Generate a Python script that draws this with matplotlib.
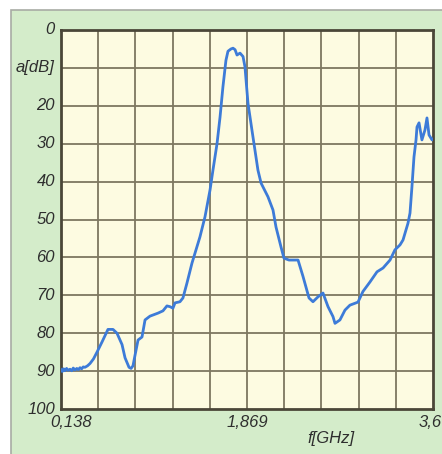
import matplotlib
matplotlib.use("Agg")
import matplotlib.pyplot as plt
from matplotlib.patches import Rectangle

# ---- data ----
freq_ghz = [0.138, 0.150, 0.163, 0.175, 0.190, 0.205, 0.222, 0.238, 0.252, 0.268,
            0.285, 0.300, 0.315, 0.330, 0.345, 0.361, 0.385, 0.408, 0.440, 0.473,
            0.520, 0.575, 0.622, 0.659, 0.706, 0.734, 0.771, 0.790, 0.808, 0.827,
            0.855, 0.892, 0.920, 0.966, 0.994, 1.041, 1.087, 1.124, 1.152, 1.180,
            1.199, 1.245, 1.273, 1.310, 1.357, 1.431, 1.478, 1.525, 1.552, 1.590,
            1.618, 1.645, 1.673, 1.692, 1.720, 1.739, 1.758, 1.776, 1.804, 1.832,
            1.850, 1.878, 1.915, 1.943, 1.971, 2.000, 2.064, 2.111, 2.139, 2.185,
            2.213, 2.260, 2.344, 2.390, 2.446, 2.483, 2.530, 2.576, 2.623, 2.669,
            2.688, 2.734, 2.781, 2.827, 2.902, 2.948, 3.013, 3.079, 3.135, 3.200,
            3.246, 3.293, 3.321, 3.367, 3.386, 3.404, 3.423, 3.442, 3.451, 3.470,
            3.497, 3.525, 3.544, 3.563, 3.591, 3.600]
atten_db = [89.6, 90.1, 89.4, 89.9, 89.3, 89.8, 89.5, 89.9, 89.2, 89.7,
            89.3, 89.6, 89.1, 89.4, 88.9, 89.0, 88.6, 88.0, 86.8, 85.0,
            82.3, 79.0, 79.0, 80.0, 83.0, 86.5, 89.0, 89.3, 88.6, 85.8,
            81.8, 81.0, 76.5, 75.5, 75.2, 74.7, 74.1, 72.8, 73.0, 73.4,
            72.0, 71.7, 70.7, 66.8, 61.5, 54.6, 49.3, 42.2, 37.0, 30.0,
            23.0, 15.0, 8.0, 5.6, 5.0, 4.8, 5.2, 6.6, 6.1, 7.0,
            9.7, 19.3, 26.4, 31.7, 37.0, 40.4, 44.0, 47.5, 52.0, 57.2,
            60.2, 60.7, 60.7, 65.0, 70.7, 71.7, 70.4, 69.4, 73.0, 75.6,
            77.4, 76.5, 73.9, 72.6, 71.8, 69.0, 66.5, 63.8, 62.8, 60.7,
            58.0, 56.7, 55.4, 51.0, 48.3, 41.4, 33.5, 29.0, 25.6, 24.5,
            29.0, 26.4, 23.2, 27.7, 29.0, 28.8]
x_tick_values = [0.138, 1.869, 3.6]
x_tick_labels = ["0,138", "1,869", "3,6"]
y_tick_values = [0, 10, 20, 30, 40, 50, 60, 70, 80, 90, 100]
y_tick_labels = ["0", "a[dB]", "20", "30", "40", "50", "60", "70", "80", "90", "100"]
x_min, x_max = 0.138, 3.6

W, H = 442, 454
fig = plt.figure(figsize=(W / 100, H / 100), dpi=100)
fig.patch.set_facecolor("white")

# green panel with grey border
fig.patches.append(Rectangle((11 / W, -0.01), 1.1, 1 - 10 / H + 0.01,
                             transform=fig.transFigure, facecolor="#d4ecca",
                             edgecolor="#a8aca4", linewidth=1.2, zorder=-10))

ax = fig.add_axes([61 / W, 1 - 409 / H, (433 - 61) / W, (409 - 30) / H])
ax.set_zorder(5)
ax.set_facecolor("#fdfbe1")
ax.set_xlim(x_min, x_max)
ax.set_ylim(100, 0)

# grid: 10 x 10
step_x = (x_max - x_min) / 10
for i in range(1, 10):
    ax.axvline(x_min + i * step_x, color="#7d7760", linewidth=1.3, zorder=1)
for v in y_tick_values[1:-1]:
    ax.axhline(v, color="#7d7760", linewidth=1.3, zorder=1)

ax.plot(freq_ghz, atten_db, color="#3d7bd8", linewidth=2.0, zorder=3,
        solid_joinstyle="round")

for s in ax.spines.values():
    s.set_color("#4a4638")
    s.set_linewidth(2.0)
ax.set_xticks([])
ax.set_yticks([])

fam = ["Liberation Sans Narrow", "Liberation Sans", "DejaVu Sans"]
tc = "#2e2e2e"
for v, lab in zip(y_tick_values, y_tick_labels):
    ax.text(-6 / 372 * (x_max - x_min) + x_min, v, lab, ha="right", va="center",
            fontsize=12, style="italic", color=tc, family=fam, clip_on=False)

xoffs = [10, 0, -3]
for v, lab, off in zip(x_tick_values, x_tick_labels, xoffs):
    ax.annotate(lab, xy=(v, 100), xytext=(off * 0.72, -4), textcoords="offset points",
                ha="center", va="top", fontsize=12, style="italic", color=tc,
                family=fam, annotation_clip=False)

fig.text(331 / W, 1 - 438 / H, "f[GHz]", ha="center", va="center", fontsize=12,
         style="italic", color=tc, family=fam)

fig.savefig("out.png", dpi=100, facecolor=fig.get_facecolor())
